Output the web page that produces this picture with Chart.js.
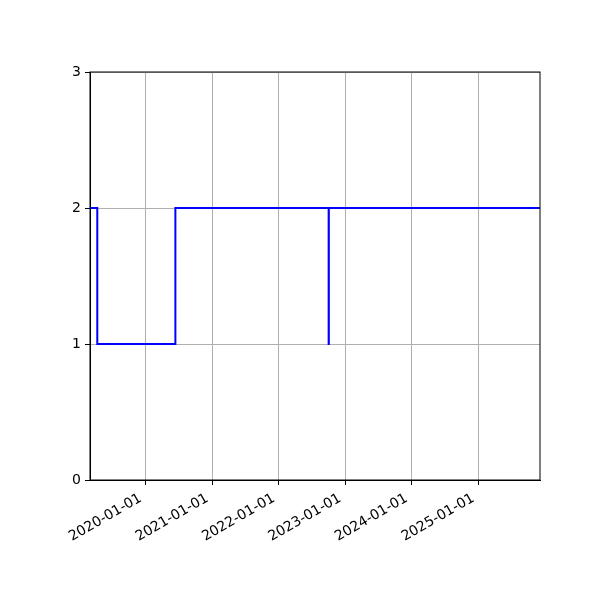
<!DOCTYPE html>
<html lang="en">

<head>
    <meta charset="UTF-8">
    <title>Step chart</title>
    <style>
        body {
            margin: 0;
            padding: 0;
            background: #ffffff;
        }

        .wrap {
            width: 600px;
            height: 600px;
        }
    </style>
</head>

<body>
    <div class="wrap">
        <canvas id="stepChart" width="600" height="600"></canvas>
    </div>

    <script src="https://cdn.jsdelivr.net/npm/chart.js"></script>
    <script>
        // Series values (each value held until the next date)
        const stepDates = ["2019-03-01", "2019-04-10", "2020-06-12", "2022-10-02", "2022-10-03", "2025-12-06"];
        const stepValues = [2, 1, 2, 1, 2, 2];

        // Axis range and tick labels
        const xStart = "2019-03-01";
        const xEnd = "2025-12-06";
        const xTickDates = ["2020-01-01", "2021-01-01", "2022-01-01", "2023-01-01", "2024-01-01", "2025-01-01"];
        const yTicks = [0, 1, 2, 3];

        const toMs = d => Date.parse(d);

        // black frame round the plot area (matplotlib spines)
        const frame = {
            id: "frame",
            afterDraw(chart) {
                const a = chart.chartArea;
                const ctx = chart.ctx;
                ctx.save();
                ctx.strokeStyle = "#000000";
                ctx.lineWidth = 1;
                ctx.strokeRect(a.left, a.top, a.right - a.left, a.bottom - a.top);
                ctx.restore();
            }
        };

        const ctx = document.getElementById("stepChart").getContext("2d");
        new Chart(ctx, {
            type: "line",
            data: {
                datasets: [{
                    data: stepDates.map((d, i) => ({ x: toMs(d), y: stepValues[i] })),
                    // "before" in Chart.js = horizontal first, then vertical (steps-post)
                    stepped: "before",
                    borderColor: "#0000ff",
                    borderWidth: 2,
                    pointRadius: 0,
                    fill: false
                }]
            },
            options: {
                responsive: false,
                animation: false,
                layout: {
                    padding: { top: 72, right: 60, left: 0, bottom: 0 }
                },
                plugins: {
                    legend: { display: false },
                    tooltip: { enabled: false }
                },
                scales: {
                    x: {
                        type: "linear",
                        min: toMs(xStart),
                        max: toMs(xEnd),
                        afterBuildTicks: scale => {
                            scale.ticks = xTickDates.map(d => ({ value: toMs(d) }));
                        },
                        afterFit: scale => {
                            scale.height = 120;
                            scale.paddingLeft = 0;
                            scale.paddingRight = 0;
                        },
                        ticks: {
                            autoSkip: false,
                            minRotation: 30,
                            maxRotation: 30,
                            padding: 5,
                            labelOffset: -5,
                            color: "#000000",
                            font: { family: "DejaVu Sans", size: 14 },
                            callback: v => new Date(v).toISOString().slice(0, 10)
                        },
                        grid: {
                            color: "#b0b0b0",
                            lineWidth: 1,
                            tickLength: 5,
                            tickColor: "#000000"
                        },
                        border: { color: "#000000" }
                    },
                    y: {
                        min: 0,
                        max: 3,
                        afterBuildTicks: scale => {
                            scale.ticks = yTicks.map(v => ({ value: v }));
                        },
                        afterFit: scale => {
                            scale.width = 90;
                            scale.paddingTop = 0;
                            scale.paddingBottom = 0;
                        },
                        ticks: {
                            padding: 4,
                            color: "#000000",
                            font: { family: "DejaVu Sans", size: 14 }
                        },
                        grid: {
                            color: "#b0b0b0",
                            lineWidth: 1,
                            tickLength: 5,
                            tickColor: "#000000"
                        },
                        border: { color: "#000000" }
                    }
                }
            },
            plugins: [frame]
        });
    </script>
</body>

</html>
